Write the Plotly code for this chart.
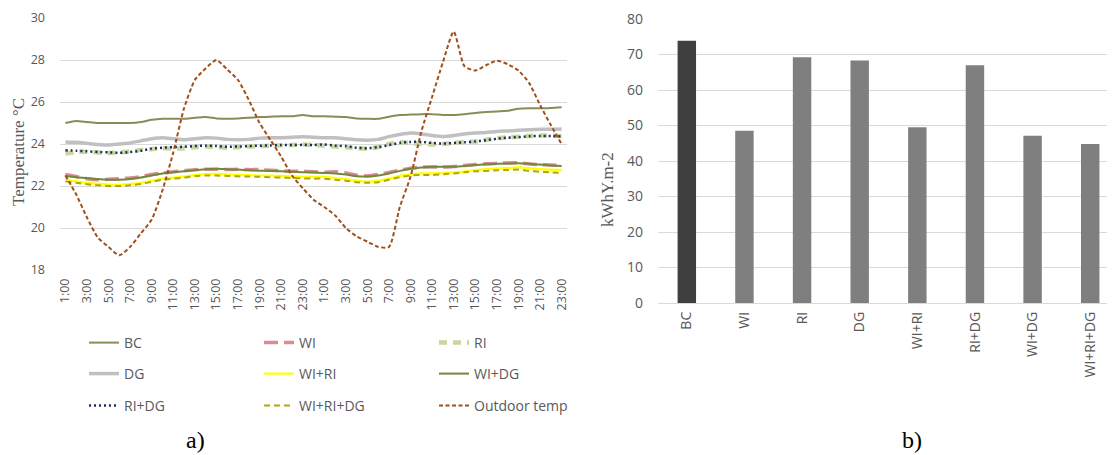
import plotly.graph_objects as go

# page is photographed at 1115x455; the html body adds an 8px margin
PAGE_W, PAGE_H, BODY = 1115, 455, 8
W, H = PAGE_W - BODY, PAGE_H - BODY

# ---------------- data: panel a) ----------------
hour_labels = ["1:00", "2:00", "3:00", "4:00", "5:00", "6:00", "7:00", "8:00", "9:00", "10:00",
               "11:00", "12:00", "13:00", "14:00", "15:00", "16:00", "17:00", "18:00", "19:00",
               "20:00", "21:00", "22:00", "23:00", "24:00",
               "1:00", "2:00", "3:00", "4:00", "5:00", "6:00", "7:00", "8:00", "9:00", "10:00",
               "11:00", "12:00", "13:00", "14:00", "15:00", "16:00", "17:00", "18:00", "19:00",
               "20:00", "21:00", "22:00", "23:00"]

bc = [25.0, 25.1, 25.05, 25.0, 25.0, 25.0, 25.0, 25.05, 25.15, 25.2, 25.2, 25.2, 25.25, 25.28,
      25.22, 25.2, 25.22, 25.25, 25.28, 25.3, 25.32, 25.32, 25.38, 25.32, 25.32, 25.3, 25.28,
      25.22, 25.2, 25.2, 25.3, 25.38, 25.4, 25.42, 25.42, 25.38, 25.38, 25.42, 25.48, 25.52,
      25.55, 25.58, 25.68, 25.7, 25.7, 25.72, 25.75]

wi = [22.55, 22.45, 22.35, 22.3, 22.32, 22.35, 22.38, 22.45, 22.55, 22.62, 22.68, 22.72, 22.78,
      22.8, 22.8, 22.78, 22.8, 22.78, 22.78, 22.75, 22.72, 22.7, 22.7, 22.68, 22.66, 22.68,
      22.62, 22.52, 22.48, 22.55, 22.65, 22.75, 22.85, 22.9, 22.9, 22.9, 22.93, 22.98, 23.02,
      23.06, 23.08, 23.1, 23.1, 23.05, 23.02, 23.0, 22.97]

ri = [23.55, 23.62, 23.63, 23.6, 23.57, 23.6, 23.65, 23.72, 23.75, 23.8, 23.78, 23.8, 23.85,
      23.88, 23.86, 23.82, 23.85, 23.88, 23.9, 23.92, 23.93, 23.95, 23.98, 23.95, 23.92, 23.88,
      23.85, 23.8, 23.78, 23.85, 24.0, 24.08, 24.05, 24.0, 23.98, 24.0, 24.05, 24.1, 24.12,
      24.2, 24.28, 24.32, 24.35, 24.38, 24.4, 24.4, 24.38]

dg = [24.1, 24.08, 24.03, 23.98, 23.95, 24.0, 24.05, 24.15, 24.25, 24.3, 24.25, 24.2, 24.25,
      24.3, 24.28, 24.22, 24.2, 24.22, 24.28, 24.3, 24.3, 24.32, 24.35, 24.32, 24.3, 24.3,
      24.25, 24.2, 24.18, 24.22, 24.35, 24.45, 24.52, 24.48, 24.4, 24.35, 24.4, 24.48, 24.52,
      24.55, 24.6, 24.62, 24.65, 24.68, 24.7, 24.7, 24.72]

wi_ri = [22.3, 22.22, 22.15, 22.1, 22.07, 22.06, 22.1, 22.15, 22.25, 22.35, 22.4, 22.45, 22.52,
         22.57, 22.58, 22.56, 22.53, 22.52, 22.5, 22.5, 22.48, 22.46, 22.44, 22.43, 22.44,
         22.38, 22.33, 22.25, 22.21, 22.25, 22.35, 22.48, 22.55, 22.6, 22.6, 22.63, 22.65,
         22.7, 22.76, 22.8, 22.84, 22.86, 22.89, 22.85, 22.8, 22.78, 22.76]

wi_dg = [22.48, 22.42, 22.38, 22.33, 22.3, 22.3, 22.33, 22.4, 22.5, 22.6, 22.65, 22.7, 22.75,
         22.8, 22.82, 22.8, 22.78, 22.75, 22.73, 22.72, 22.7, 22.68, 22.66, 22.64, 22.62, 22.6,
         22.55, 22.47, 22.45, 22.5, 22.6, 22.72, 22.82, 22.88, 22.92, 22.92, 22.92, 22.95,
         23.0, 23.03, 23.06, 23.07, 23.08, 23.06, 23.02, 22.98, 22.95]

ri_dg = [23.7, 23.68, 23.65, 23.62, 23.6, 23.58, 23.62, 23.68, 23.78, 23.82, 23.85, 23.87, 23.9,
         23.92, 23.9, 23.87, 23.88, 23.9, 23.92, 23.93, 23.95, 23.95, 23.96, 23.95, 23.98,
         23.92, 23.9, 23.82, 23.8, 23.85, 23.95, 24.05, 24.1, 24.1, 24.05, 24.02, 24.05, 24.08,
         24.12, 24.18, 24.25, 24.3, 24.33, 24.37, 24.38, 24.38, 24.36]

wi_ri_dg = [22.22, 22.15, 22.08, 22.03, 22.0, 22.0, 22.03, 22.1, 22.2, 22.3, 22.35, 22.4, 22.47,
            22.5, 22.5, 22.48, 22.46, 22.45, 22.44, 22.42, 22.4, 22.38, 22.36, 22.35, 22.35,
            22.3, 22.25, 22.18, 22.15, 22.18, 22.3, 22.42, 22.5, 22.52, 22.52, 22.56, 22.6,
            22.65, 22.7, 22.72, 22.75, 22.76, 22.78, 22.72, 22.68, 22.65, 22.63]

outdoor = [22.5, 21.6, 20.5, 19.55, 19.1, 18.7, 19.1, 19.75, 20.4, 21.8, 23.6, 25.7, 27.05,
           27.6, 28.0, 27.55, 27.05, 26.1, 25.0, 24.2, 23.4, 22.5, 21.9, 21.35, 21.0, 20.6,
           20.0, 19.6, 19.35, 19.1, 19.1, 21.0, 22.45, 24.6, 26.25, 27.9, 29.35, 27.7, 27.5,
           27.75, 27.97, 27.8, 27.5, 26.9, 25.86, 24.9, 24.0]

# ---------------- data: panel b) ----------------
scenarios = ["BC", "WI", "RI", "DG", "WI+RI", "RI+DG", "WI+DG", "WI+RI+DG"]
energy = [73.9, 48.5, 69.2, 68.3, 49.5, 67.0, 47.1, 44.8]
bar_colors = ["#404040", "#7f7f7f", "#7f7f7f", "#7f7f7f", "#7f7f7f", "#7f7f7f", "#7f7f7f", "#7f7f7f"]

# ---------------- figure ----------------
idx = list(range(len(hour_labels)))
fig = go.Figure()

series = [
    ("BC", bc, dict(color="#8b8b57", width=2), "legend"),
    ("WI", wi, dict(color="#dc8a96", width=3.5, dash="14px,6px"), "legend"),
    ("RI", ri, dict(color="#c9d69e", width=4.5, dash="8px,6px"), "legend"),
    ("DG", dg, dict(color="#c0c0c0", width=3.5), "legend2"),
    ("WI+RI", wi_ri, dict(color="#ffff00", width=2.2), "legend2"),
    ("WI+DG", wi_dg, dict(color="#71883a", width=2), "legend2"),
    ("RI+DG", ri_dg, dict(color="#1f2d5c", width=2.5, dash="2px,3px"), "legend3"),
    ("WI+RI+DG", wi_ri_dg, dict(color="#b3a800", width=2, dash="6px,4px"), "legend3"),
    ("Outdoor temp", outdoor, dict(color="#a04e1a", width=2, dash="4px,2.5px"), "legend3"),
]
for name, vals, line, lg in series:
    fig.add_trace(go.Scatter(x=idx, y=vals, name=name, mode="lines",
                             line=dict(shape="spline", smoothing=0.6, **line),
                             legend=lg, xaxis="x", yaxis="y"))

fig.add_trace(go.Bar(x=scenarios, y=energy, marker=dict(color=bar_colors, line=dict(width=0)),
                     showlegend=False, xaxis="x2", yaxis="y2"))


def px_x(p):
    # page pixel -> paper fraction
    return (p - BODY) / W


def px_y(p):
    return 1 - (p - BODY) / H


grid = "#d9d9d9"

legend_common = dict(orientation="h", entrywidth=130, entrywidthmode="pixels",
                     font=dict(family="Open Sans", size=14, color="#595959"),
                     bgcolor="rgba(0,0,0,0)", xanchor="left", yanchor="middle", x=px_x(84),
                     itemclick=False, itemdoubleclick=False, tracegroupgap=0)

fig.update_layout(
    width=W, height=H,
    margin=dict(l=0, r=0, t=0, b=0, autoexpand=False),
    paper_bgcolor="white", plot_bgcolor="white",
    bargap=0.68,
    xaxis=dict(domain=[px_x(60), px_x(567)], range=[-0.5, 46.5], anchor="y",
               tickmode="array", tickvals=idx[::2], ticktext=hour_labels[::2],
               tickangle=-90, tickfont=dict(family="Open Sans", size=12.5, color="#595959"),
               showgrid=False, zeroline=False, showline=False, ticks="",
               ticklabelstandoff=5, automargin=False),
    yaxis=dict(domain=[px_y(270), px_y(18)], range=[18, 30], dtick=2, anchor="x",
               tickfont=dict(family="Open Sans", size=12.5, color="#595959"),
               gridcolor=grid, gridwidth=1, zeroline=False,
               showline=False, ticks="", ticklabelstandoff=14, automargin=False),
    xaxis2=dict(domain=[px_x(658), 1.0], range=[-0.5, 7.43], type="category", anchor="y2",
                tickangle=-90, tickfont=dict(family="Open Sans", size=14, color="#595959"),
                showgrid=False, zeroline=False, showline=False, ticks="",
                ticklabelstandoff=5, automargin=False),
    yaxis2=dict(domain=[px_y(303), px_y(19)], range=[0, 80], dtick=10, anchor="x2",
                tickfont=dict(family="Open Sans", size=14, color="#595959"),
                gridcolor=grid, gridwidth=1, zeroline=True, zerolinecolor=grid, zerolinewidth=1,
                showline=False, ticks="", ticklabelstandoff=14, automargin=False),
    legend=dict(y=px_y(343), **legend_common),
    legend2=dict(y=px_y(374), **legend_common),
    legend3=dict(y=px_y(406), **legend_common),
)

annotations = [
    dict(text="Temperature °C", x=px_x(18), y=px_y(152), textangle=-90,
         font=dict(family="Liberation Serif", size=17, color="#595959")),
    dict(text="kWhY.m-2", x=px_x(608), y=px_y(190), textangle=-90,
         font=dict(family="Liberation Serif", size=17, color="#595959")),
    dict(text="a)", x=px_x(195), y=px_y(440),
         font=dict(family="Liberation Serif", size=24, color="#000000")),
    dict(text="b)", x=px_x(912), y=px_y(440),
         font=dict(family="Liberation Serif", size=24, color="#000000")),
]
for a in annotations:
    fig.add_annotation(xref="paper", yref="paper", showarrow=False, xanchor="center",
                       yanchor="middle", **a)

fig.write_html("out.html")
